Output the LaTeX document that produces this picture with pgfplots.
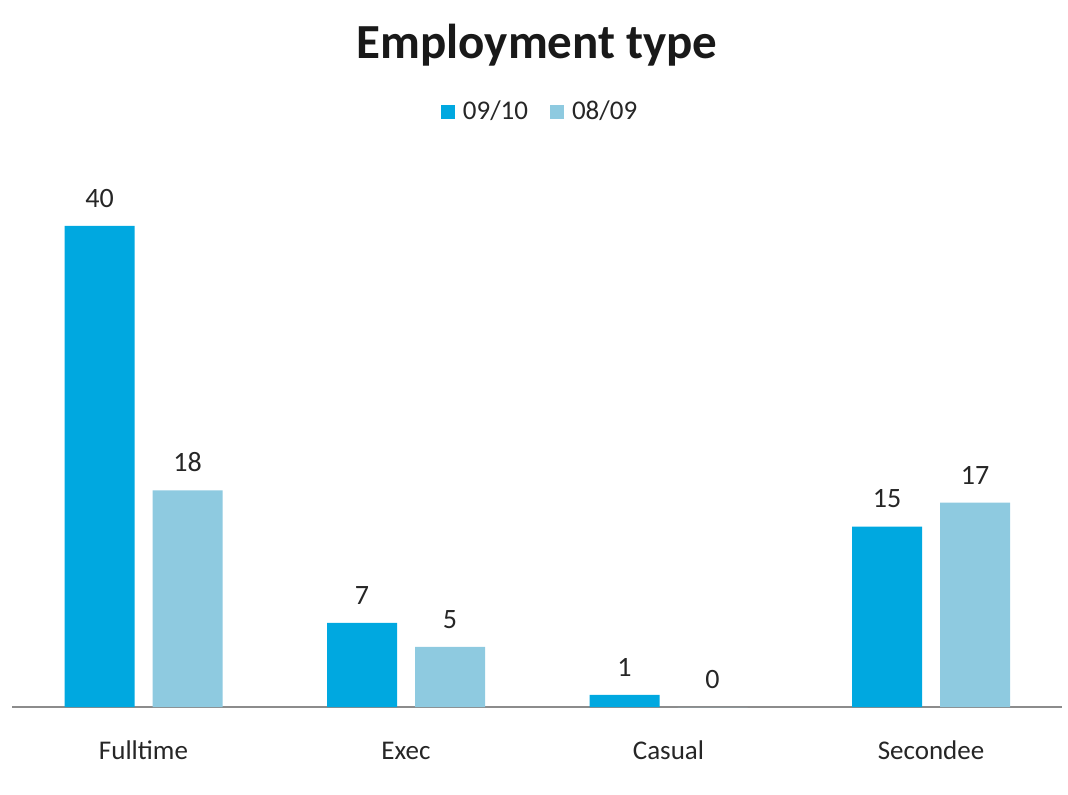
\documentclass[border=0pt]{standalone}
\usepackage{pgfplots}
\pgfplotsset{compat=1.18}
\usepackage{fontspec}
\setmainfont{Carlito}
\definecolor{cA}{HTML}{00A8E0}
\definecolor{cB}{HTML}{8ECAE0}
\definecolor{axg}{HTML}{8C8C8C}
\begin{document}
\begin{tikzpicture}
\useasboundingbox (-6.125pt,-43.5pt) rectangle (527.875pt,353.5pt);
\begin{axis}[
  at={(0pt,0pt)}, anchor=south west,
  scale only axis,
  width=525pt, height=276.69pt,
  xmin=-0.5, xmax=3.5, ymin=0, ymax=46,
  axis x line=bottom, axis y line=none,
  x axis line style={draw=axg, line width=1pt, -},
  xtick={0,1,2,3},
  xticklabels={Fulltime,Exec,Casual,Secondee},
  major tick length=0pt,
  xticklabel style={font=\fontsize{13.5pt}{16pt}\selectfont, anchor=base, inner sep=0pt, yshift=-26pt, text=black!85},
  /pgf/number format/assume math mode=true,
  ybar, bar width=35pt,
  nodes near coords,
  every node near coord/.append style={font=\fontsize{14pt}{16pt}\selectfont, anchor=south, inner sep=0pt, yshift=9pt, text=black!85},
  legend columns=2,
  legend style={draw=none, fill=none, at={(0.5036,1.0752)}, anchor=center, font=\fontsize{13.5pt}{15pt}\selectfont, text=black!85,
    /tikz/every odd column/.append style={column sep=2pt},
    /tikz/every even column/.append style={column sep=9pt}},
  legend image code/.code={\fill[#1] (0pt,-3.5pt) rectangle (7pt,3.5pt);},
  clip=false,
]
\addplot[fill=cA, draw=none, bar shift=-22pt] coordinates {(0,40) (1,7) (2,1) (3,15)};
\addlegendentry{09/10}
\addplot[fill=cB, draw=none, bar shift=22pt] coordinates {(0,18) (1,5) (2,0) (3,17)};
\addlegendentry{08/09}
\end{axis}
\node[font=\fontsize{24.5pt}{29pt}\selectfont\bfseries, text=black!90] at (262.4pt,331pt) {Employment type};
\end{tikzpicture}
\end{document}
